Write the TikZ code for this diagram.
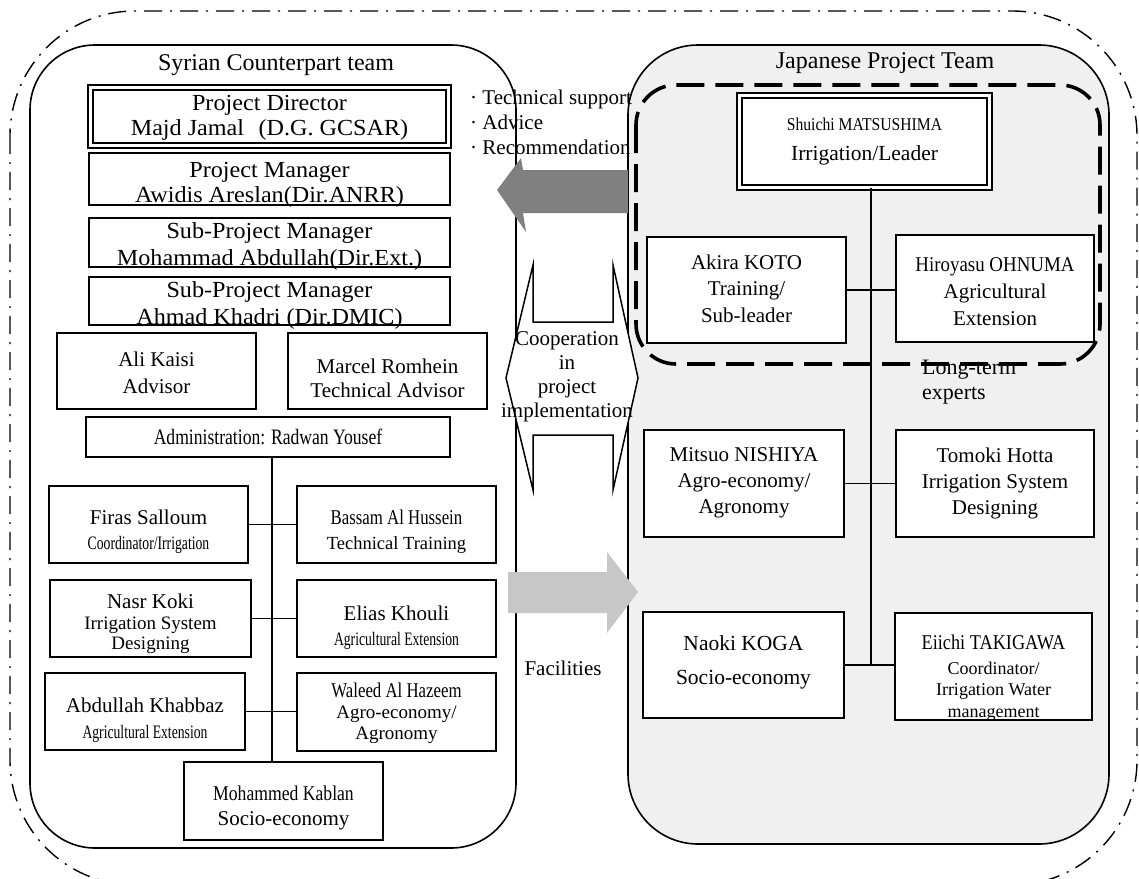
\documentclass[tikz,border=0pt]{standalone}
\usepackage{fontspec}
\setmainfont{Liberation Serif}
\newcommand{\sz}[2]{\fontsize{#1}{#2}\selectfont}
\newcommand{\cnd}[2]{\scalebox{#1}[1]{#2}}
\newcommand{\wide}[1]{\scalebox{1.05}[1]{#1}}
\begin{document}
\begin{tikzpicture}[x=1pt,y=-1pt,
  every node/.style={font=\sz{21}{26}},
  box/.style={draw, line width=1.8pt, fill=white, inner sep=0pt},
  dbox/.style={draw, line width=1.3pt, double, double distance=3.5pt, fill=white, inner sep=0pt},
  txt/.style={inner sep=0pt, align=center},
  conn/.style={line width=1.2pt},
  team/.style={draw, line width=1.6pt},
  outerline/.style={line width=1.4pt, dash pattern=on 18pt off 8pt on 2pt off 8pt, rounded corners=125pt},
  ltdash/.style={line width=3.6pt, dash pattern=on 28pt off 11pt, rounded corners=40pt},
  lbl/.style={inner sep=0pt},
  darrow/.style={fill=black!50},
  larrow/.style={fill=black!22},
  coopshape/.style={draw, line width=1.5pt, fill=white, line join=miter}
]
\useasboundingbox (0,0) rectangle (1139,878);
\begin{scope}
  \clip (0,0) rectangle (1139,878);
  \draw[outerline] (10,11) rectangle (1137,885);
\end{scope}
% team panels
\draw[team, rounded corners=65pt] (30,45) rectangle (516,848);
\draw[team, rounded corners=70pt, fill=black!6] (628,45) rectangle (1109,844);
\draw[ltdash] (636,85) rectangle (1100,364);

% titles
\node[lbl, font=\sz{24}{26}] (syrt) at (276,65) {Syrian Counterpart team};
\node[lbl, font=\sz{24}{26}] (japt) at (885,63) {Japanese Project Team};

% ---------------- Syrian side: boxes
\node[dbox, minimum width=358pt, minimum height=58pt] (pd) at (269.5,116.5) {};
\node[box, minimum width=361pt, minimum height=52pt] (pm) at (269.5,179) {};
\node[box, minimum width=361pt, minimum height=49pt] (spma) at (269.5,242.5) {};
\node[box, minimum width=361pt, minimum height=48pt] (spmb) at (269.5,301) {};
\node[box, minimum width=199pt, minimum height=76pt] (ali) at (156.5,371) {};
\node[box, minimum width=199pt, minimum height=76pt] (marcel) at (387.5,371) {};
\node[box, minimum width=364pt, minimum height=40pt] (admin) at (268,437) {};
\node[box, minimum width=199pt, minimum height=77pt] (firas) at (148.5,524.5) {};
\node[box, minimum width=199pt, minimum height=77pt] (bassam) at (396.5,524.5) {};
\node[box, minimum width=201pt, minimum height=77pt] (nasr) at (150.5,618.5) {};
\node[box, minimum width=199pt, minimum height=77pt] (elias) at (396.5,618.5) {};
\node[box, minimum width=200pt, minimum height=77pt] (abdullah) at (145,711.5) {};
\node[box, minimum width=199pt, minimum height=78pt] (waleed) at (396.5,712) {};
\node[box, minimum width=199pt, minimum height=78pt] (kablan) at (283.5,801) {};

% Syrian side: texts
\node[txt, font=\sz{23}{25}] (pdt) at (269.5,117.5) {\wide{Project Director}\\\wide{Majd Jamal\hspace{0.6em}(D.G. GCSAR)}};
\node[txt, font=\sz{23}{25}] (pmt) at (269.5,184.5) {\wide{Project Manager}\\\wide{Awidis Areslan(Dir.ANRR)}};
\node[txt, font=\sz{23}{27}] (spmat) at (269.5,246) {\wide{Sub-Project Manager}\\\wide{Mohammad Abdullah(Dir.Ext.)}};
\node[txt, font=\sz{23}{27}] (spmbt) at (269.5,305.5) {\wide{Sub-Project Manager}\\\wide{Ahmad Khadri (Dir.DMIC)}};
\node[txt, font=\sz{21}{27}] (alit) at (156.5,373) {Ali Kaisi\\Advisor};
\node[txt, font=\sz{21}{24}] (marcelt) at (387.5,378) {Marcel Romhein\\Technical Advisor};
\node[txt, font=\sz{22}{26}] (admint) at (268,437) {\cnd{0.8}{Administration: Radwan Yousef}};
\node[txt, font=\sz{19}{25}] (firast) at (148.5,531.5) {{\sz{21}{25}Firas Salloum}\\\cnd{0.72}{Coordinator/Irrigation}};
\node[txt, font=\sz{18.5}{25}] (bassamt) at (396.5,531.5) {{\sz{21}{25}\cnd{0.8}{Bassam Al Hussein}}\\Technical Training};
\node[txt, font=\sz{19}{20.5}] (nasrt) at (150.5,624) {{\sz{21}{25}Nasr Koki}\\Irrigation System\\Designing};
\node[txt, font=\sz{19}{25}] (eliast) at (396.5,627.5) {{\sz{21}{25}Elias Khouli}\\\cnd{0.72}{Agricultural Extension}};
\node[txt, font=\sz{19}{26}] (abdullaht) at (145,720) {{\sz{21}{25}Abdullah Khabbaz}\\\cnd{0.72}{Agricultural Extension}};
\node[txt, font=\sz{19}{21}] (waleedt) at (396.5,713) {{\sz{21}{25}\cnd{0.8}{Waleed Al Hazeem}}\\Agro-economy/\\Agronomy};
\node[txt, font=\sz{21}{25}] (kablant) at (283.5,807.5) {\cnd{0.84}{Mohammed Kablan}\\Socio-economy};

% Syrian connectors
\coordinate (lv) at (272,460);
\draw[conn] (admin.south -| lv) -- (kablan.north -| lv);
\draw[conn] (firas.east) -- (firas.east -| bassam.west);
\draw[conn] (nasr.east) -- (nasr.east -| elias.west);
\draw[conn] (abdullah.east) -- (abdullah.east -| waleed.west);

% ---------------- Japanese side: boxes
\node[dbox, minimum width=250pt, minimum height=92pt] (shuichi) at (864.5,141.5) {};
\node[box, minimum width=199pt, minimum height=106pt] (akira) at (746.5,290) {};
\node[box, minimum width=198pt, minimum height=107pt] (hiroyasu) at (995,288.5) {};
\node[box, minimum width=200pt, minimum height=107pt] (mitsuo) at (744,483.5) {};
\node[box, minimum width=198pt, minimum height=107pt] (tomoki) at (995,483.5) {};
\node[box, minimum width=201pt, minimum height=106pt] (naoki) at (743.5,665) {};
\node[box, minimum width=197pt, minimum height=107pt] (eiichi) at (993.5,666.5) {};

% Japanese side: texts
\node[txt, font=\sz{21.5}{30}] (shuichit) at (864.5,142) {{\sz{18}{22}\cnd{0.87}{Shuichi MATSUSHIMA}}\\Irrigation/Leader};
\node[txt, font=\sz{21}{26.5}] (akirat) at (746.5,288.5) {Akira KOTO\\Training/\\Sub-leader};
\node[txt, font=\sz{21}{27}] (hiroyasut) at (995,292) {\cnd{0.9}{Hiroyasu OHNUMA}\\Agricultural\\Extension};
\node[txt, font=\sz{21}{26}] (mitsuot) at (744,483) {Mitsuo NISHIYA\\Agro-economy/\\Agronomy};
\node[txt, font=\sz{21}{26}] (tomokit) at (995,483) {Tomoki Hotta\\Irrigation System\\Designing};
\node[txt, font=\sz{21.5}{34}] (naokit) at (743.5,662) {Naoki KOGA\\Socio-economy};
\node[txt, font=\sz{18}{21.5}] (eiichit) at (993.5,678) {{\sz{21}{25}\cnd{0.87}{Eiichi TAKIGAWA}}\\[3pt]Coordinator/\\Irrigation Water\\management};

% Japanese connectors
\coordinate (rv) at (871,300);
\draw[conn] (shuichi.south -| rv) -- (naoki.east -| rv);
\draw[conn] (akira.east) -- (akira.east -| hiroyasu.west);
\draw[conn] (mitsuo.east) -- (mitsuo.east -| tomoki.west);
\draw[conn] (naoki.east) -- (naoki.east -| eiichi.west);

\node[lbl, align=left, anchor=west, font=\sz{22}{25}] (lte) at (922,382) {Long-term\\experts};

% arrows between teams
\fill[darrow] (628,170) -- (523,170) -- (521,158) -- (497,190) -- (526,232) -- (523,213) -- (628,213) -- cycle;
\fill[larrow] (508,572) -- (607,572) -- (607,552) -- (638,592) -- (607,633) -- (607,613) -- (508,613) -- cycle;

\draw[coopshape] (533,265) -- (533,322) -- (613,322) -- (613,265) -- (638,378) -- (613,490) -- (613,435) -- (533,435) -- (533,490) -- (506,378) -- cycle;
\node[lbl, align=center, font=\sz{21}{24}] (coop) at (567,377) {Cooperation\\in\\project\\implementation};
\node[lbl] (fac) at (563,668) {Facilities};

\node[lbl, anchor=base west] (tsup) at (470,104) {· Technical support};
\node[lbl, anchor=base west] (advi) at (470,129) {· Advice};
\node[lbl, anchor=base west] (reco) at (470,154) {· Recommendation};
\end{tikzpicture}
\end{document}
